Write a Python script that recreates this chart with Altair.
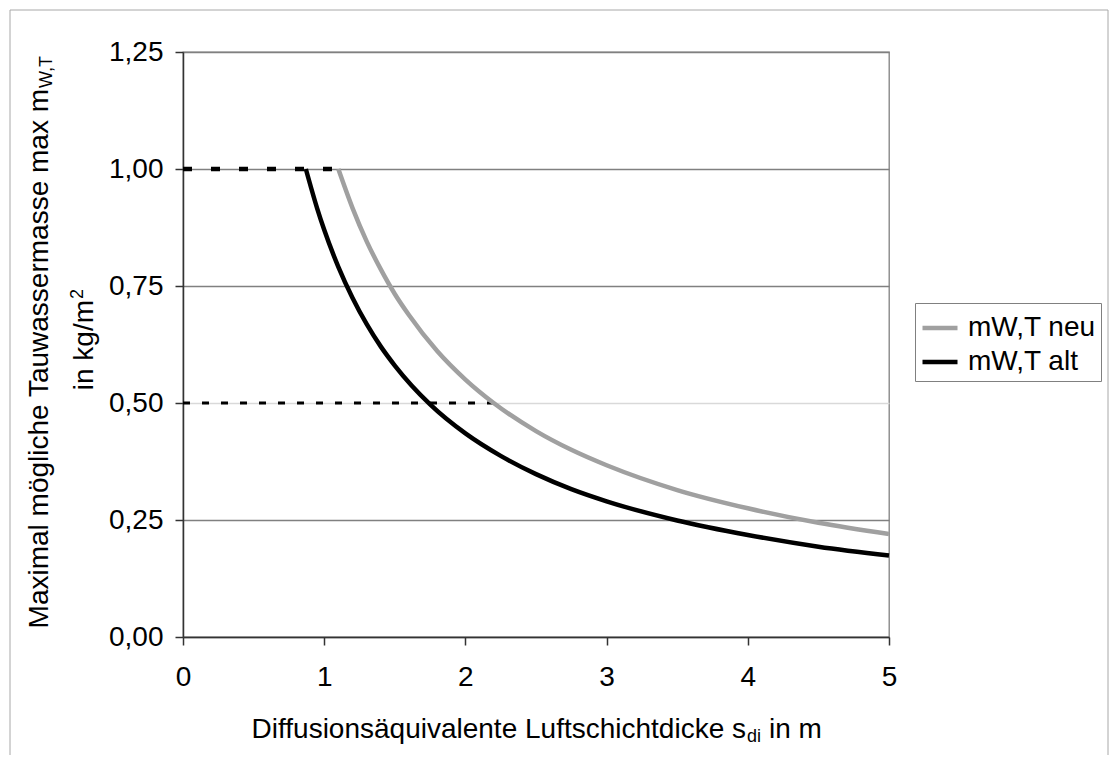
import altair as alt
import pandas as pd

FONT = "Liberation Sans"
FS = 28
FS_SMALL = 18

# ---- data ----
series_names = ["mW,T neu", "mW,T alt"]
series_colors = ["#a0a0a0", "#000000"]

x_neu = [1.10, 1.20, 1.30, 1.40, 1.50, 1.60, 1.80, 2.00, 2.20, 2.50, 2.75, 3.00, 3.50, 4.00, 4.50, 5.00]
y_neu = [1.000, 0.917, 0.846, 0.786, 0.733, 0.688, 0.611, 0.550, 0.500, 0.440, 0.400, 0.367, 0.314, 0.275, 0.244, 0.220]

x_alt = [0.87, 0.95, 1.00, 1.10, 1.20, 1.30, 1.40, 1.50, 1.75, 2.00, 2.25, 2.50, 2.75, 3.00, 3.50, 4.00, 4.50, 5.00]
y_alt = [1.000, 0.916, 0.870, 0.791, 0.725, 0.669, 0.621, 0.580, 0.497, 0.435, 0.387, 0.348, 0.316, 0.290, 0.249, 0.218, 0.193, 0.174]

# dashed reference lines (x start, x end, level)
ref_upper_x = [0.0, 1.10]
ref_upper_y = [1.00, 1.00]
ref_lower_x = [0.0, 2.20]
ref_lower_y = [0.50, 0.50]

x_ticks = [0, 1, 2, 3, 4, 5]
y_ticks = [0.0, 0.25, 0.5, 0.75, 1.0, 1.25]

x_title_main = "Diffusionsäquivalente Luftschichtdicke s"
x_title_sub = "di"
x_title_end = "in m"
y_title_main = "Maximal mögliche Tauwassermasse max m"
y_title_sub = "W,T"
y_title2_main = "in kg/m"
y_title2_sup = "2"

W, H = 706, 585

curves = pd.DataFrame({
    "x": x_neu + x_alt,
    "y": y_neu + y_alt,
    "serie": [series_names[0]] * len(x_neu) + [series_names[1]] * len(x_alt),
})
upper = pd.DataFrame({"x": ref_upper_x, "y": ref_upper_y})
lower = pd.DataFrame({"x": ref_lower_x, "y": ref_lower_y})

xenc = alt.X(
    "x:Q",
    scale=alt.Scale(domain=[0, 5], nice=False, zero=False),
    axis=alt.Axis(
        values=x_ticks, format="d", title=None, grid=False,
        tickSize=8, tickWidth=1.5, tickColor="#333333",
        domainColor="#333333", domainWidth=1.5,
        labelPadding=40, labelBaseline="alphabetic", labelFlush=False,
        labelFontSize=FS, labelFont=FONT, labelColor="#000000",
    ),
)
yenc = alt.Y(
    "y:Q",
    scale=alt.Scale(domain=[0, 1.25], nice=False),
    axis=alt.Axis(
        values=y_ticks, title=None,
        labelExpr="replace(format(datum.value, '.2f'), '.', ',')",
        grid=True,
        gridColor={"condition": {"test": "datum.value === 0.5", "value": "#d9d9d9"}, "value": "#808080"},
        gridWidth=1.3,
        tickSize=8, tickWidth=1.5, tickColor="#333333",
        domainColor="#333333", domainWidth=1.5,
        labelPadding=12, labelFlush=False,
        labelFontSize=FS, labelFont=FONT, labelColor="#000000",
    ),
)

border = alt.Chart(alt.Data(values=[{"b": 1}])).mark_rect(
    fill=None, stroke="#a8a8a8", strokeWidth=1, clip=False
).encode(
    x=alt.value(-173), x2=alt.value(925), y=alt.value(-42), y2=alt.value(H + 160)
)

upper_line = alt.Chart(upper).mark_line(
    color="#000000", strokeWidth=4.5, strokeDash=[9, 19]
).encode(x=xenc, y=yenc)

lower_line = alt.Chart(lower).mark_line(
    color="#000000", strokeWidth=3, strokeDash=[7, 12]
).encode(x=xenc, y=yenc)

lines = alt.Chart(curves).mark_line(strokeWidth=4.5, interpolate="monotone").encode(
    x=xenc,
    y=yenc,
    color=alt.Color(
        "serie:N",
        scale=alt.Scale(domain=series_names, range=series_colors),
        legend=alt.Legend(
            title=None, orient="none", legendX=732, legendY=251,
            fillColor="#ffffff", strokeColor="#808080", padding=5,
            symbolType="stroke", symbolSize=1225, symbolStrokeWidth=4.5,
            labelFontSize=FS, labelFont=FONT, labelColor="#000000",
            labelOffset=8, rowPadding=0,
        ),
    ),
)

def txt(text, x, y, size=FS, align="left", angle=0):
    return alt.Chart(alt.Data(values=[{"t": text}])).mark_text(
        align=align, baseline="alphabetic", fontSize=size, font=FONT,
        color="#000000", angle=angle,
    ).encode(text="t:N", x=alt.value(x), y=alt.value(y))

# x-axis title (centered under the plot, with subscript)
xt = [
    txt(x_title_main, 563, 686, align="right"),
    txt(x_title_sub, 564, 690, size=FS_SMALL),
    txt(x_title_end, 586, 686),
]
# y-axis title, two rotated lines with sub/superscript
yt = [
    txt(y_title_main, -135, 37, align="right", angle=270),
    txt(y_title_sub, -131, 36, size=FS_SMALL, angle=270),
    txt(y_title2_main, -90, 248, align="right", angle=270),
    txt(y_title2_sup, -100, 247, size=FS_SMALL, angle=270),
]

chart = alt.layer(border, upper_line, lower_line, lines, *xt, *yt).properties(
    width=W, height=H,
    padding={"left": 175, "top": 44, "right": 220, "bottom": 118},
    autosize=alt.AutoSizeParams(type="none"),
    background="#ffffff",
).configure_view(stroke="#808080", strokeWidth=1.3)

chart.save("out.html", embed_options={"renderer": "svg", "actions": False})
